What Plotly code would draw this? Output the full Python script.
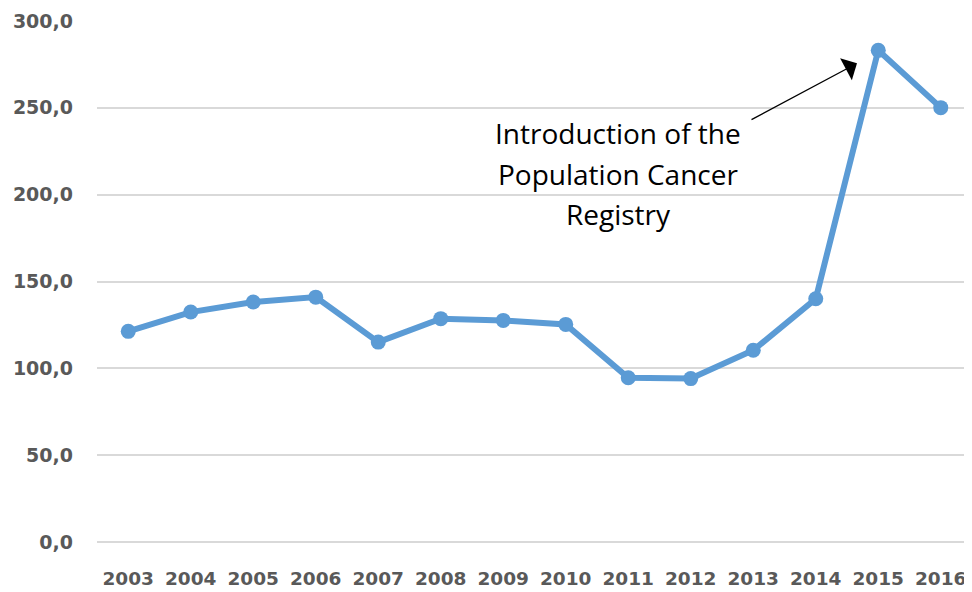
"""
Incidence line chart with the registry annotation.
"""
import plotly.graph_objects as go

# Colors
C = {
    "line": "#5B9BD5",
    "grid": "#D9D9D9",
    "tick": "#595959",
    "text": "#000000",
}

years = ["2003", "2004", "2005", "2006", "2007", "2008", "2009",
         "2010", "2011", "2012", "2013", "2014", "2015", "2016"]
values = [121.3, 132.4, 138.2, 141.0, 115.1, 128.6, 127.6,
          125.3, 94.6, 94.1, 110.4, 140.1, 283.1, 250.1]
y_ticks = [0, 50, 100, 150, 200, 250, 300]
note_lines = ["Introduction of the", "Population Cancer", "Registry"]

fig = go.Figure(go.Scatter(
    x=years, y=values,
    mode="lines+markers",
    line=dict(color=C["line"], width=6),
    marker=dict(color=C["line"], size=15),
    hoverinfo="x+y",
))

# Note text, one annotation per line to get the wide line spacing
for i, line in enumerate(note_lines):
    fig.add_annotation(
        x=7.84, y=235.5 - i * 23.4,
        text=line, showarrow=False,
        font=dict(family="Open Sans", size=28, color=C["text"]),
        xanchor="center", yanchor="middle",
    )

# Arrow pointing at the 2015 peak
fig.add_annotation(
    x=11.66, y=275.6, text="",
    showarrow=True, arrowhead=1, arrowsize=3.2, arrowwidth=1.3,
    arrowcolor="black", ax=-107, ay=57, standoff=0,
)

# page body has an 8px margin, so the figure is 8px smaller on each side
fig.update_layout(
    width=964, height=584,
    margin=dict(l=89, r=0, t=13, b=50),
    plot_bgcolor="white", paper_bgcolor="white",
    separators=", ",
    showlegend=False,
    xaxis=dict(
        type="category", range=[-0.5, 13.5],
        showgrid=False, showline=False, zeroline=False, ticks="",
        tickfont=dict(family="DejaVu Sans", size=18.5, color=C["tick"], weight="bold"),
        ticklabelstandoff=23,
    ),
    yaxis=dict(
        range=[0, 300], tickvals=y_ticks, tickformat=".1f",
        showgrid=True, gridcolor=C["grid"], gridwidth=1.6,
        zeroline=True, zerolinecolor=C["grid"], zerolinewidth=1.6,
        showline=False, ticks="",
        tickfont=dict(family="DejaVu Sans", size=19, color=C["tick"], weight="bold"),
        ticklabelstandoff=23,
    ),
)

fig.write_html("out.html")
